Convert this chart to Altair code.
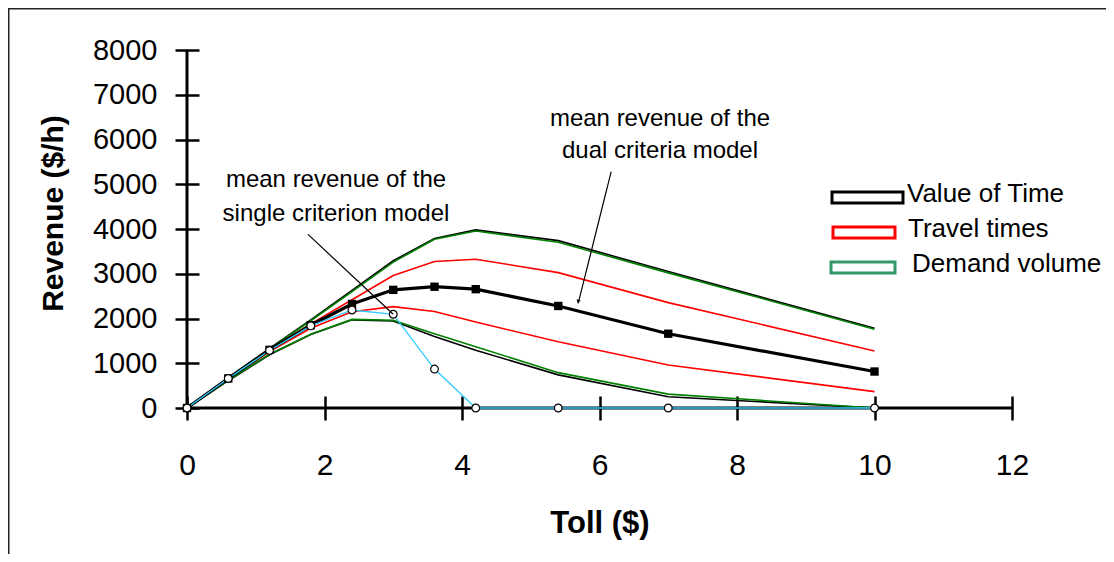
import altair as alt
import pandas as pd

# ---- data ----
toll = [0, 0.6, 1.2, 1.8, 2.4, 3.0, 3.6, 4.2, 5.4, 7.0, 10.0]
vot_upper = [0, 680, 1330, 1970, 2630, 3290, 3790, 3980, 3740, 3050, 1780]
vot_lower = [0, 610, 1190, 1640, 1970, 1945, 1600, 1290, 740, 250, 0]
tt_upper = [0, 660, 1300, 1880, 2420, 2960, 3275, 3325, 3025, 2355, 1275]
tt_lower = [0, 640, 1260, 1780, 2150, 2265, 2155, 1920, 1480, 960, 365]
dv_upper = [0, 670, 1320, 1950, 2600, 3260, 3770, 3955, 3705, 3020, 1760]
dv_lower = [0, 620, 1200, 1650, 1980, 1960, 1660, 1370, 790, 310, 0]
mean_dual = [0, 660, 1300, 1850, 2325, 2640, 2710, 2655, 2280, 1660, 815]
mean_single = [0, 660, 1285, 1835, 2190, 2095, 870, 0, 0, 0, 0]

x_ticks = [0, 2, 4, 6, 8, 10, 12]
y_ticks = [0, 1000, 2000, 3000, 4000, 5000, 6000, 7000, 8000]

legend_names = ["Value of Time", "Travel times", "Demand volume"]
note_dual = ["mean revenue of the", "dual criteria model"]
note_single = ["mean revenue of the", "single criterion model"]
# arrow ends in data units (toll, revenue)
arrow_dual = (6.17, 5280, 5.69, 2340)
arrow_single = (1.76, 3880, 3.0, 2095)

series = {
    "vot_upper": vot_upper, "dv_upper": dv_upper,
    "tt_upper": tt_upper, "tt_lower": tt_lower,
    "vot_lower": vot_lower, "dv_lower": dv_lower,
    "mean_dual": mean_dual, "mean_single": mean_single,
}
rows = []
for name, vals in series.items():
    for t, v in zip(toll, vals):
        rows.append({"toll": t, "revenue": v, "series": name})
df = pd.DataFrame(rows)

FONT = "Liberation Sans"
xscale = alt.Scale(domain=[0, 12], nice=False, zero=False)
yscale = alt.Scale(domain=[0, 8000], nice=False)

xaxis = alt.Axis(values=x_ticks, domain=False, grid=False, tickSize=24, tickWidth=2.5,
                 tickColor="black", offset=-12, labelPadding=30, labelFlush=False,
                 format="d", labelFont="Liberation Sans Narrow, Liberation Sans",
                 labelFontSize=30, labelColor="black", title="Toll ($)", titleFont=FONT,
                 titleFontSize=31, titleFontWeight="bold", titleColor="black",
                 titleBaseline="alphabetic", titleY=136)
yaxis = alt.Axis(values=y_ticks, domain=False, grid=False, tickSize=24, tickWidth=2.5,
                 tickColor="black", offset=-12, labelPadding=18, labelFlush=False,
                 format="d", labelFont=FONT, labelFontSize=29, labelColor="black",
                 title="Revenue ($/h)", titleFont=FONT, titleFontSize=30,
                 titleFontWeight="bold", titleColor="black", titleAngle=270,
                 titleBaseline="alphabetic", titleAlign="center", titleX=-137, titleY=163)

X = alt.X("toll:Q", scale=xscale, axis=xaxis)
Y = alt.Y("revenue:Q", scale=yscale, axis=yaxis)

base = alt.Chart(df)


def line(name, color, width):
    return base.transform_filter(alt.datum.series == name).mark_line(
        color=color, strokeWidth=width, clip=False).encode(x=X, y=Y)


one = pd.DataFrame({"a": [0]})
ann = alt.Chart(one)

frame = ann.mark_rect(filled=False, stroke="#222222", strokeWidth=2).encode(
    x=alt.value(-178.5), x2=alt.value(960), y=alt.value(-41.5), y2=alt.value(700))

xline = ann.mark_rule(color="black", strokeWidth=3).encode(
    x=alt.datum(0, scale=xscale, axis=xaxis), x2=alt.datum(12),
    y=alt.datum(0, scale=yscale, axis=yaxis))
yline = ann.mark_rule(color="black", strokeWidth=3).encode(
    x=alt.datum(0, scale=xscale, axis=xaxis),
    y=alt.datum(0, scale=yscale, axis=yaxis), y2=alt.datum(8000))

layers = [
    frame,
    xline, yline,
    line("vot_upper", "black", 1.6),
    line("dv_upper", "#008000", 1.6),
    line("tt_upper", "#ff0000", 1.6),
    line("tt_lower", "#ff0000", 1.6),
    line("vot_lower", "black", 1.6),
    line("dv_lower", "#008000", 1.6),
    line("mean_dual", "black", 3.2),
    line("mean_single", "#33ccff", 1.3),
]

squares = base.transform_filter(alt.datum.series == "mean_dual").mark_point(
    shape="square", filled=True, color="black", size=70, opacity=1, clip=False).encode(x=X, y=Y)
circles = base.transform_filter(alt.datum.series == "mean_single").mark_point(
    shape="circle", filled=True, fill="white", stroke="black", strokeWidth=1.2,
    size=60, opacity=1, clip=False).encode(x=X, y=Y)
layers += [squares, circles]

# annotation arrows
for (x1, y1, x2, y2) in (arrow_dual, arrow_single):
    layers.append(ann.mark_rule(color="black", strokeWidth=1.2).encode(
        x=alt.datum(x1, scale=xscale, axis=xaxis), y=alt.datum(y1, scale=yscale, axis=yaxis),
        x2=alt.datum(x2), y2=alt.datum(y2)))
layers.append(ann.mark_point(shape="triangle-down", filled=True, color="black",
                             size=18, angle=14, opacity=1).encode(
    x=alt.datum(arrow_dual[2], scale=xscale, axis=xaxis),
    y=alt.datum(arrow_dual[3] + 40, scale=yscale, axis=yaxis)))

# annotation texts
for txt, xv, yv in ((note_dual[0], 473, 76), (note_dual[1], 473, 108),
                    (note_single[0], 149, 137), (note_single[1], 149, 171)):
    layers.append(ann.mark_text(text=txt, font=FONT, fontSize=24, align="center",
                                baseline="alphabetic", color="black").encode(
        x=alt.value(xv), y=alt.value(yv)))

# legend
leg_colors = ["black", "#ff0000", "#339966"]
leg_boxes = [(645, 716, 142, 153), (646, 708, 177, 188), (644, 708, 212, 223)]
leg_text = [(720, 152), (721, 187), (725, 222)]
for name, col, (bx1, bx2, by1, by2), (tx, ty) in zip(legend_names, leg_colors, leg_boxes, leg_text):
    layers.append(ann.mark_rect(filled=False, stroke=col, strokeWidth=3).encode(
        x=alt.value(bx1), x2=alt.value(bx2), y=alt.value(by1), y2=alt.value(by2)))
    layers.append(ann.mark_text(text=name, font=FONT, fontSize=26, align="left",
                                baseline="alphabetic", color="black").encode(
        x=alt.value(tx), y=alt.value(ty)))

chart = alt.layer(*layers).properties(
    width=825, height=358,
    autosize=alt.AutoSizeParams(type="none"),
    padding={"left": 179, "top": 42, "right": 94, "bottom": 146},
    background="white",
).configure_view(stroke="transparent", strokeWidth=0)

chart.save("out.html", embed_options={"renderer": "svg", "actions": False})
